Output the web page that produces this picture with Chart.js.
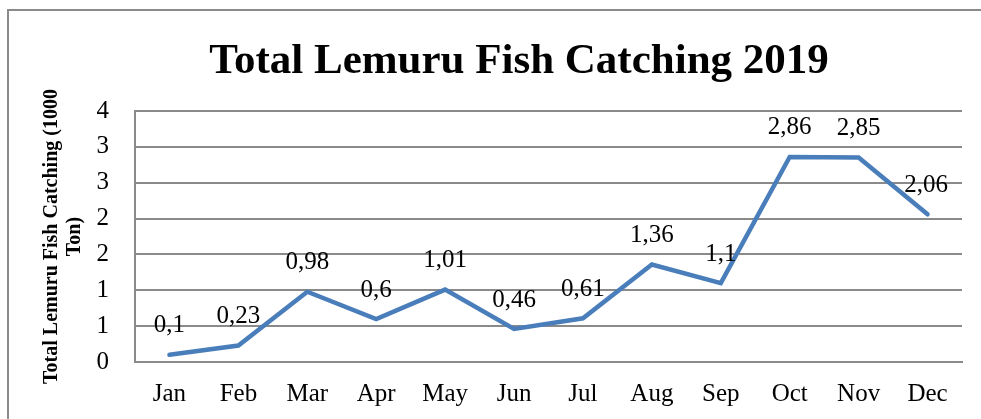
<!DOCTYPE html>
<html>
<head>
<meta charset="utf-8">
<script src="https://cdn.jsdelivr.net/npm/chart.js@4"></script>
<style>
html,body{margin:0;padding:0;background:#fff;}
#wrap{width:981px;height:419px;position:relative;}
</style>
</head>
<body>
<div id="wrap"><canvas id="c" width="981" height="419"></canvas></div>
<script>
const months = ['Jan','Feb','Mar','Apr','May','Jun','Jul','Aug','Sep','Oct','Nov','Dec'];
const catchValues = [0.1, 0.23, 0.98, 0.6, 1.01, 0.46, 0.61, 1.36, 1.1, 2.86, 2.85, 2.06];
const dataLabels = ['0,1','0,23','0,98','0,6','1,01','0,46','0,61','1,36','1,1','2,86','2,85','2,06'];
const yTickLabels = ['0','1','1','2','2','3','3','4'];
const chartTitle = 'Total Lemuru Fish Catching 2019';
const yAxisTitle = ['Total Lemuru Fish Catching (1000', 'Ton)'];

const SERIF = '"Liberation Serif", "Times New Roman", serif';

const framePlugin = {
  id: 'frame',
  beforeDraw(chart) {
    const ctx = chart.ctx;
    ctx.save();
    ctx.strokeStyle = '#8a8a8a';
    ctx.lineWidth = 2;
    ctx.beginPath();
    ctx.moveTo(8, 419);
    ctx.lineTo(8, 10);
    ctx.lineTo(981, 10);
    ctx.stroke();
    ctx.fillStyle = '#000';
    ctx.font = 'bold 43px ' + SERIF;
    ctx.textAlign = 'center';
    ctx.textBaseline = 'alphabetic';
    ctx.fillText(chartTitle, 519, 73);
    ctx.restore();
  }
};

const labelPlugin = {
  id: 'pointLabels',
  afterDatasetsDraw(chart) {
    const ctx = chart.ctx;
    const meta = chart.getDatasetMeta(0);
    const area = chart.chartArea;
    ctx.save();
    ctx.fillStyle = '#000';
    ctx.font = '25px ' + SERIF;
    ctx.textAlign = 'center';
    ctx.textBaseline = 'middle';
    meta.data.forEach((el, i) => {
      const txt = dataLabels[i];
      const w = ctx.measureText(txt).width;
      let x = el.x;
      const maxRight = area.right - 14;
      if (x + w / 2 > maxRight) x = maxRight - w / 2;
      ctx.fillText(txt, x, el.y - 29);
    });
    ctx.restore();
  }
};

new Chart(document.getElementById('c'), {
  type: 'line',
  data: {
    labels: months,
    datasets: [{
      data: catchValues,
      borderColor: '#4a7ebb',
      borderWidth: 4.5,
      borderCapStyle: 'round',
      borderJoinStyle: 'miter',
      pointRadius: 0,
      tension: 0,
      fill: false
    }]
  },
  options: {
    responsive: false,
    animation: false,
    layout: { padding: { left: 0, right: 19, top: 111, bottom: 0 } },
    plugins: {
      legend: { display: false },
      title: { display: false },
      tooltip: { enabled: false }
    },
    scales: {
      x: {
        offset: true,
        grid: { display: false, drawTicks: false },
        border: { display: true, color: '#8a8a8a', width: 2 },
        ticks: {
          color: '#000',
          font: { family: SERIF, size: 25 },
          padding: 17,
          maxRotation: 0,
          autoSkip: false
        },
        afterFit(scale) { scale.height = 57; }
      },
      y: {
        min: 0,
        max: 3.5,
        grid: { color: '#8a8a8a', lineWidth: 2, drawTicks: false },
        border: { display: true, color: '#8a8a8a', width: 2 },
        ticks: {
          stepSize: 0.5,
          color: '#000',
          font: { family: SERIF, size: 25 },
          padding: 26,
          callback: (v, i) => yTickLabels[i]
        },
        title: {
          display: true,
          text: yAxisTitle,
          color: '#000',
          font: { family: SERIF, size: 20, weight: 'bold', lineHeight: 1.15 },
          padding: { top: 40, bottom: 0 }
        },
        afterFit(scale) { scale.width = 135; }
      }
    }
  },
  plugins: [framePlugin, labelPlugin]
});
</script>
</body>
</html>
